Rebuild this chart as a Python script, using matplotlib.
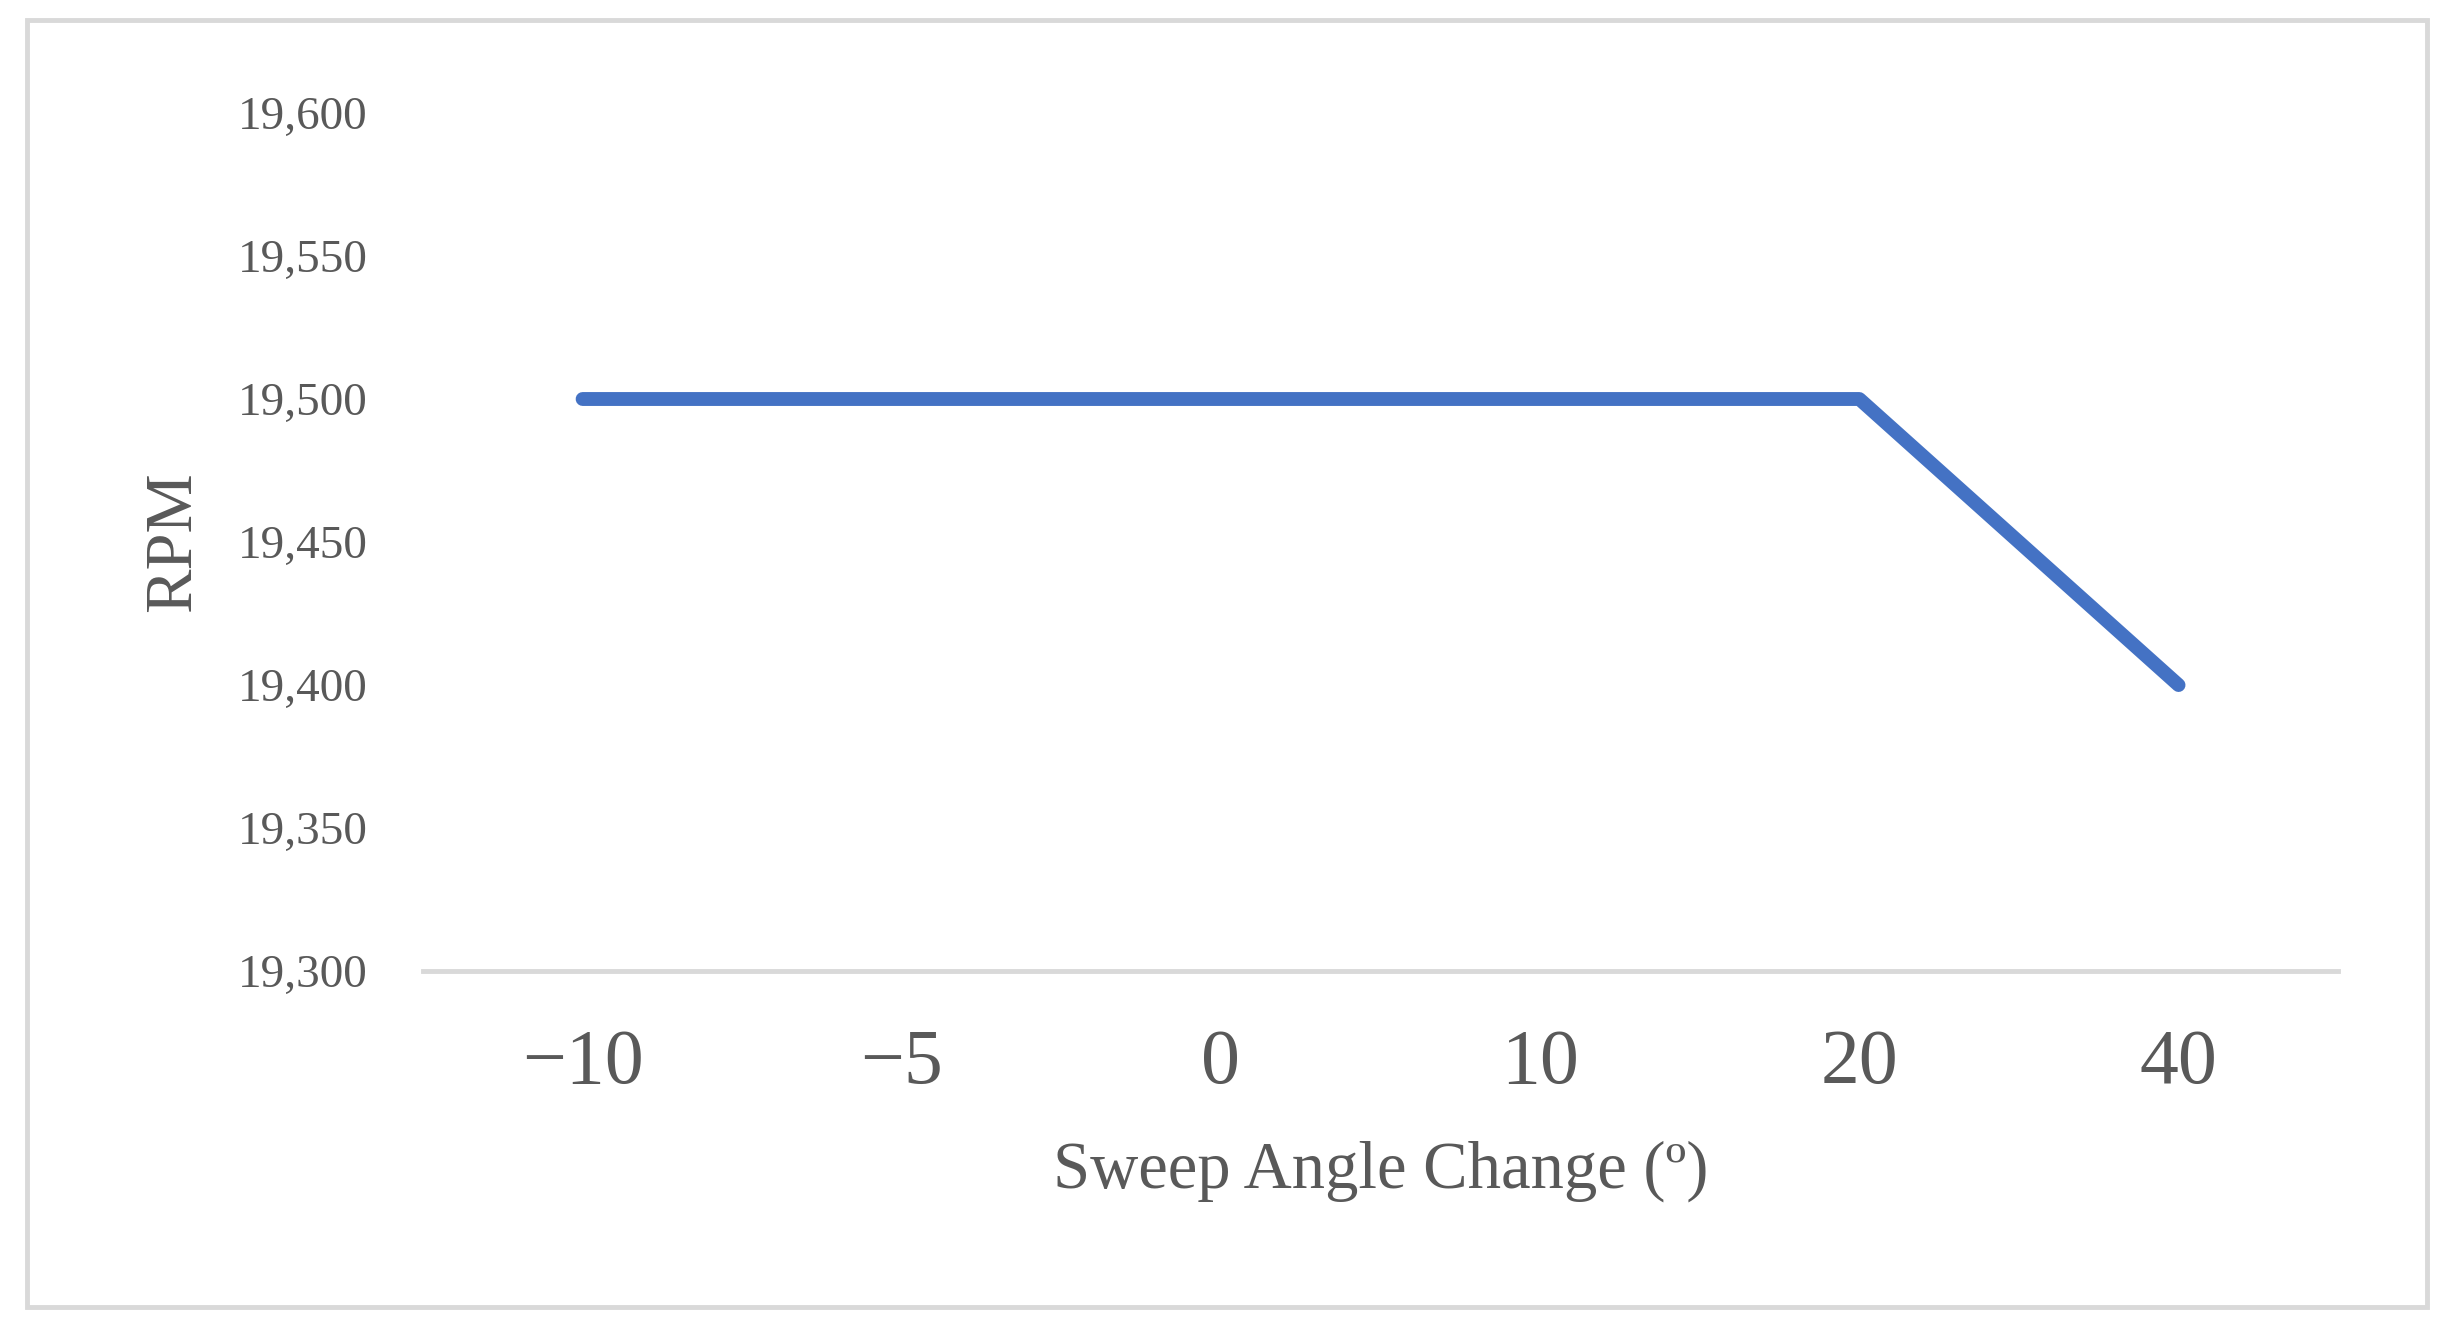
import matplotlib
matplotlib.use("Agg")
import matplotlib.pyplot as plt
from matplotlib.patches import Rectangle

# data
sweep_angles = ["\u221210", "\u22125", "0", "10", "20", "40"]
rpm = [19500, 19500, 19500, 19500, 19500, 19400]
y_ticks = [19300, 19350, 19400, 19450, 19500, 19550, 19600]

text_color = "#595959"
line_color = "#4472C4"
grid_color = "#D9D9D9"

plt.rcParams["font.family"] = ["Liberation Serif", "DejaVu Serif"]

fig = plt.figure(figsize=(24.55, 13.37), dpi=100)

# light grey frame round the whole chart
fig.patches.append(Rectangle((0.011, 0.0224), 0.9776, 0.9626, transform=fig.transFigure,
                             fill=False, edgecolor=grid_color, linewidth=3.5))

ax = fig.add_axes([0.1723, 0.2737, 0.7801, 0.6418])

x = list(range(len(sweep_angles)))
ax.plot(x, rpm, color=line_color, linewidth=10,
        solid_capstyle="round", solid_joinstyle="round")

ax.set_xlim(-0.5, len(sweep_angles) - 0.5)
ax.set_ylim(19300, 19600)
ax.set_yticks(y_ticks)
ax.set_yticklabels([f"{v:,}" for v in y_ticks])
ax.set_xticks(x)
ax.set_xticklabels(sweep_angles)

for side in ["top", "right", "left"]:
    ax.spines[side].set_visible(False)
ax.spines["bottom"].set_color(grid_color)
ax.spines["bottom"].set_linewidth(3.5)

ax.tick_params(axis="x", length=0, pad=41, labelsize=56, labelcolor=text_color)
ax.tick_params(axis="y", length=0, pad=40, labelsize=34, labelcolor=text_color)

ax.set_xlabel("Sweep Angle Change (º)", fontsize=48, color=text_color)
ax.xaxis.set_label_coords(0.5, -0.233)
ax.xaxis.label.set_va("center")
ax.set_ylabel("RPM", fontsize=48, color=text_color)
ax.yaxis.set_label_coords(-0.13, 0.5)
ax.yaxis.label.set_va("center")
ax.yaxis.label.set_ha("center")

fig.savefig("out.png", dpi=100)
